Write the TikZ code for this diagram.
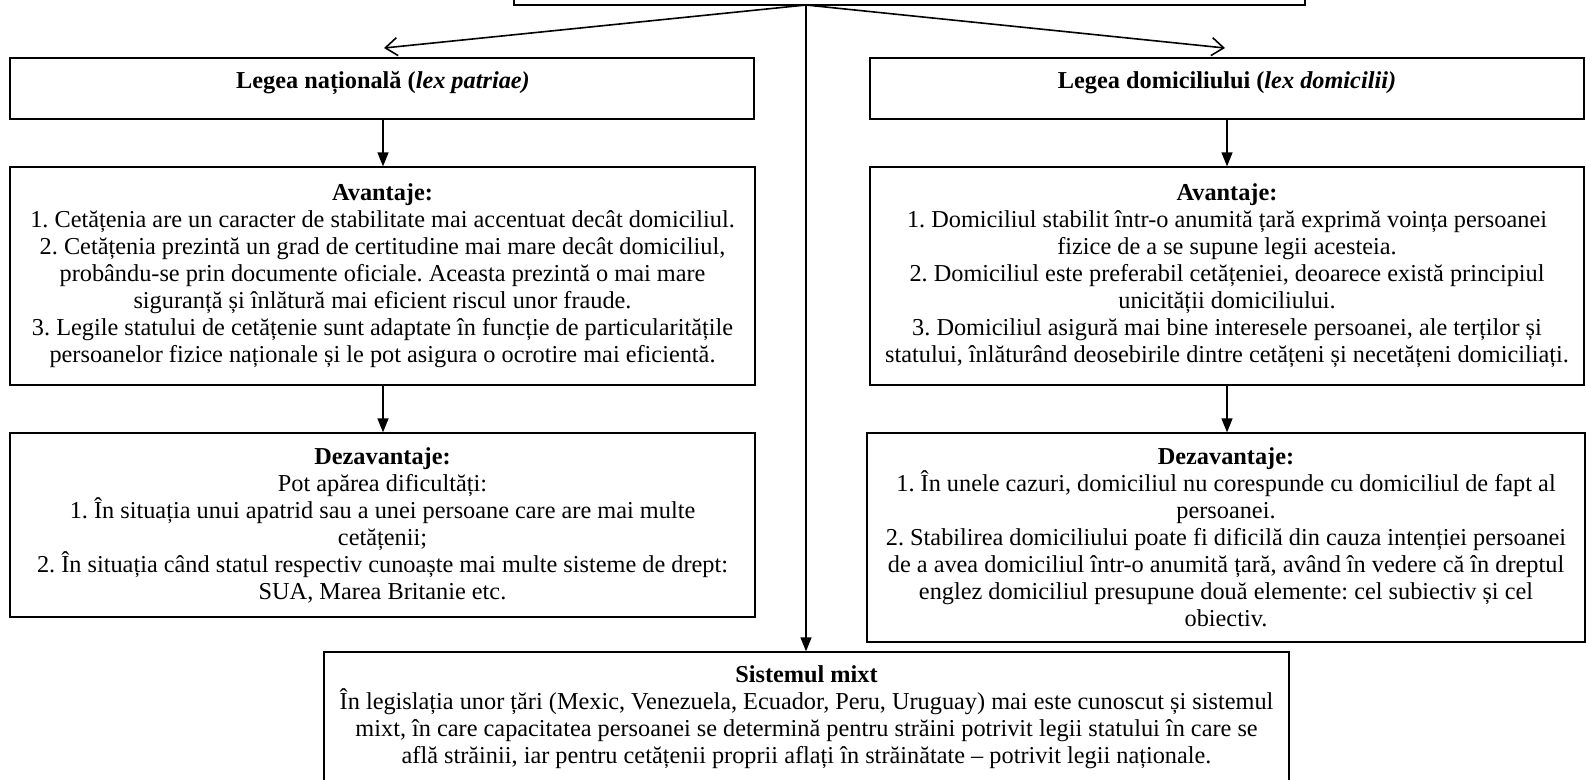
\documentclass[tikz,border=0pt]{standalone}
\usepackage{fontspec}
\setmainfont{Liberation Serif}
\usetikzlibrary{arrows.meta}
\frenchspacing
\begin{document}
\begin{tikzpicture}[x=1pt,y=-1pt,
  box/.style={draw, line width=1.3pt, inner sep=0pt},
  txt/.style={align=center, inner sep=0pt, font=\fontsize{24.3}{27}\selectfont},
  arr/.style={line width=1.3pt, -{Triangle[width=11pt,length=14pt]}},
  barb/.style={line width=1.6pt, -{Straight Barb[width=18pt,length=12pt,line width=1.6pt]}}]
\useasboundingbox (0,0) rectangle (1586,779);
\fill[white] (0,0) rectangle (1586,779);
% boxes
\node[box, minimum width=791pt, minimum height=60pt] (top) at (909.5,-25) {};
\node[box, minimum width=744pt, minimum height=61pt] (ln) at (382,88.5) {};
\node[box, minimum width=714pt, minimum height=61pt] (ld) at (1227,88.5) {};
\node[box, minimum width=745pt, minimum height=218pt] (av1) at (382.5,276) {};
\node[box, minimum width=714pt, minimum height=218pt] (av2) at (1227,276) {};
\node[box, minimum width=745pt, minimum height=184pt] (dz1) at (382.5,525) {};
\node[box, minimum width=718pt, minimum height=209pt] (dz2) at (1226,537.5) {};
\node[box, minimum width=965pt, minimum height=160pt] (mx) at (806.5,732) {};
% texts
\node[txt] (tln) at (383,83) {\textbf{Legea națională (\textit{lex patriae)}}};
\node[txt] (tld) at (1227,83) {\textbf{Legea domiciliului (\textit{lex domicilii)}}};
\node[txt] (tav1) at (av1.center) {\textbf{Avantaje:}\\
1. Cetățenia are un caracter de stabilitate mai accentuat decât domiciliul.\\
2. Cetățenia prezintă un grad de certitudine mai mare decât domiciliul,\\
probându-se prin documente oficiale. Aceasta prezintă o mai mare\\
siguranță și înlătură mai eficient riscul unor fraude.\\
3. Legile statului de cetățenie sunt adaptate în funcție de particularitățile\\
persoanelor fizice naționale și le pot asigura o ocrotire mai eficientă.};
\node[txt] (tav2) at (av2.center) {\textbf{Avantaje:}\\
1. Domiciliul stabilit într-o anumită țară exprimă voința persoanei\\
fizice de a se supune legii acesteia.\\
2. Domiciliul este preferabil cetățeniei, deoarece există principiul\\
unicității domiciliului.\\
3. Domiciliul asigură mai bine interesele persoanei, ale terților și\\
statului, înlăturând deosebirile dintre cetățeni și necetățeni domiciliați.};
\node[txt] (tdz1) at (dz1.center) {\textbf{Dezavantaje:}\\
Pot apărea dificultăți:\\
1. În situația unui apatrid sau a unei persoane care are mai multe\\
cetățenii;\\
2. În situația când statul respectiv cunoaște mai multe sisteme de drept:\\
SUA, Marea Britanie etc.};
\node[txt] (tdz2) at (dz2.center) {\textbf{Dezavantaje:}\\
1. În unele cazuri, domiciliul nu corespunde cu domiciliul de fapt al\\
persoanei.\\
2. Stabilirea domiciliului poate fi dificilă din cauza intenției persoanei\\
de a avea domiciliul într-o anumită țară, având în vedere că în dreptul\\
englez domiciliul presupune două elemente: cel subiectiv și cel\\
obiectiv.};
\node[txt, anchor=north] (tmx) at (806.5,665) {\textbf{Sistemul mixt}\\
În legislația unor țări (Mexic, Venezuela, Ecuador, Peru, Uruguay) mai este cunoscut și sistemul\\
mixt, în care capacitatea persoanei se determină pentru străini potrivit legii statului în care se\\
află străinii, iar pentru cetățenii proprii aflați în străinătate – potrivit legii naționale.};
% connectors
\coordinate (src) at (806,5);
\coordinate (lt) at (384,48);
\coordinate (rt) at (1225,48);
\draw[barb] (src) -- (lt);
\draw[barb] (src) -- (rt);
\draw[arr] (src) -- (mx.north -| src);
\draw[arr] (ln.south -| 383,0) -- (av1.north -| 383,0);
\draw[arr] (ld.south -| 1227,0) -- (av2.north -| 1227,0);
\draw[arr] (av1.south -| 383,0) -- (dz1.north -| 383,0);
\draw[arr] (av2.south -| 1227,0) -- (dz2.north -| 1227,0);
\end{tikzpicture}
\end{document}
